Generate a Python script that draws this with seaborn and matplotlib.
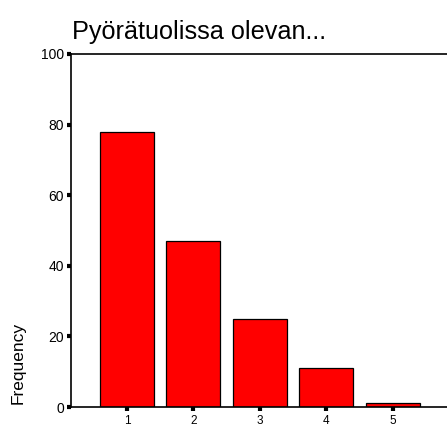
import matplotlib
matplotlib.use("Agg")
import matplotlib.pyplot as plt
import seaborn as sns
import pandas as pd

categories = ["1", "2", "3", "4", "5"]
frequency = [78, 47, 25, 11, 1]
title = "Pyörätuolissa olevan..."

sns.set_style("white")
plt.rcParams["font.family"] = ["Liberation Sans", "DejaVu Sans"]

df = pd.DataFrame({"category": categories, "frequency": frequency})

fig = plt.figure(figsize=(4.47, 4.28), dpi=100)
ax = fig.add_axes([0.159, 0.049, 0.845, 0.825])

sns.barplot(
    data=df,
    x="category",
    y="frequency",
    color="#ff0000",
    saturation=1,
    width=0.81,
    edgecolor="black",
    linewidth=0.9,
    ax=ax
)

ax.set_ylim(0, 100)
ax.set_xlim(-0.84, 4.84)
ax.set_yticks([0, 20, 40, 60, 80, 100])

for side in ["top", "left", "bottom"]:
    ax.spines[side].set_visible(True)
    ax.spines[side].set_color("black")
    ax.spines[side].set_linewidth(1.2)
ax.spines["right"].set_visible(False)

ax.tick_params(axis="both", which="major", bottom=True, left=True,
               direction="out", length=3, width=3, color="black",
               labelcolor="black")
ax.tick_params(axis="y", pad=2, labelsize=10)
ax.tick_params(axis="x", pad=2.5, labelsize=8.5)

ax.set_xlabel("")
ax.set_ylabel("Frequency", fontsize=12.5, color="black")
ax.yaxis.set_label_coords(-0.12, 0.125)

fig.text(72 / 447, 1 - 32 / 428, title, fontsize=18.2,
         ha="left", va="center", color="black")

fig.savefig("out.png", dpi=100)
